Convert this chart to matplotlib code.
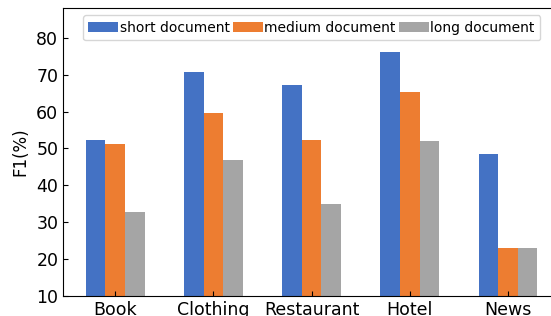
import matplotlib
matplotlib.use("Agg")
import matplotlib.pyplot as plt
import numpy as np

categories = ["Book", "Clothing", "Restaurant", "Hotel", "News"]
short_doc = [52.4, 70.8, 67.3, 76.2, 48.4]
medium_doc = [51.1, 59.5, 52.2, 65.4, 23.0]
long_doc = [32.7, 46.8, 34.9, 51.9, 23.0]
series_labels = ["short document", "medium document", "long document"]
colors = ["#4472C4", "#ED7D31", "#A5A5A5"]

fig = plt.figure(figsize=(5.51, 3.16), dpi=100)
ax = fig.add_axes([63.2 / 551, 20 / 316, (560 - 63.2) / 551, (316 - 8.3 - 20) / 316])

x = np.arange(len(categories))
w = 0.2
for i, (vals, lab, c) in enumerate(zip([short_doc, medium_doc, long_doc], series_labels, colors)):
    ax.bar(x + (i - 1) * w, vals, width=w, color=c, label=lab)

ax.set_ylim(10, 88)
ax.set_xlim(-0.53, 4.53)
ax.set_xticks(x)
ax.set_xticklabels(categories, fontsize=12.5)
ax.set_yticks([10, 20, 30, 40, 50, 60, 70, 80])
ax.tick_params(axis="y", labelsize=12.5, direction="in")
ax.tick_params(axis="x", direction="in")
ax.set_ylabel("F1(%)", fontsize=12, labelpad=5)

ax.legend(loc="upper center", ncol=3, fontsize=10, handlelength=2.15,
          handletextpad=0.1, columnspacing=0.25, borderaxespad=0.5,
          borderpad=0.4)

fig.savefig("out.png", dpi=100)
